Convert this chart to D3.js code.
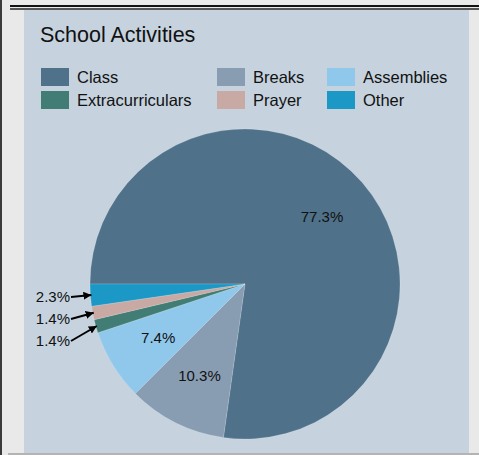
<!DOCTYPE html>
<html>
<head>
<meta charset="utf-8">
<script src="https://cdn.jsdelivr.net/npm/d3@7"></script>
<style>
  body { margin: 0; background: #e9e9e9; }
  svg { display: block; font-family: "Liberation Sans", Arial, sans-serif; }
</style>
</head>
<body>
<div id="chart"></div>
<script>
const width = 479;
const height = 455;

// data
const categories = ["Class", "Breaks", "Assemblies", "Extracurriculars", "Prayer", "Other"];
const values = [77.3, 10.3, 7.4, 1.4, 1.4, 2.3];
const colors = ["#4f7189", "#889db2", "#90c8ec", "#417d74", "#c8a9a4", "#1b98c6"];
const legendOrder = ["Class", "Breaks", "Assemblies", "Extracurriculars", "Prayer", "Other"];

const svg = d3.select("#chart")
              .append("svg")
              .attr("width", width)
              .attr("height", height);

// frame bits
svg.append("rect").attr("x", 0).attr("y", 0).attr("width", width).attr("height", height).attr("fill", "#e9e9e9");
svg.append("rect").attr("x", 0).attr("y", 0).attr("width", 2).attr("height", height).attr("fill", "#3a3a3a");
svg.append("rect").attr("x", 10).attr("y", 5).attr("width", width - 10).attr("height", 2).attr("fill", "#111");
svg.append("rect").attr("x", 10).attr("y", 8).attr("width", width - 10).attr("height", 2).attr("fill", "#555");
svg.append("rect").attr("x", 8).attr("y", 453).attr("width", width - 8).attr("height", 2).attr("fill", "#b4b4b4");

// panel
svg.append("rect")
   .attr("x", 24).attr("y", 10)
   .attr("width", 445).attr("height", 443)
   .attr("fill", "#c6d3df");

svg.append("text")
   .attr("x", 40).attr("y", 42)
   .attr("font-size", 21.5)
   .attr("fill", "#111")
   .text("School Activities");

const color = d3.scaleOrdinal().domain(categories).range(colors);

// legend, 3 columns x 2 rows
const colX = [41, 217, 327];
const rowY = [68, 91];
const legend = svg.append("g");
legendOrder.forEach((name, i) => {
    const x = colX[i % 3], y = rowY[Math.floor(i / 3)];
    legend.append("rect")
          .attr("x", x).attr("y", y)
          .attr("width", 28).attr("height", 18)
          .attr("fill", color(name));
    legend.append("text")
          .attr("x", x + 36).attr("y", y + 9)
          .attr("dy", "0.35em")
          .attr("font-size", 16.5)
          .attr("fill", "#111")
          .text(name);
});

// pie
const cx = 245, cy = 284, radius = 155;
const data = categories.map((c, i) => ({ name: c, value: values[i] }));

const pie = d3.pie()
              .sort(null)
              .value(d => d.value)
              .startAngle(-Math.PI / 2)
              .endAngle(3 * Math.PI / 2);

const arcs = pie(data);
const arc = d3.arc().innerRadius(0).outerRadius(radius);
const labelArc = d3.arc().innerRadius(102).outerRadius(102);

const g = svg.append("g").attr("transform", `translate(${cx},${cy})`);

g.selectAll("path")
 .data(arcs)
 .enter()
 .append("path")
 .attr("d", arc)
 .attr("fill", d => color(d.data.name))
 .attr("stroke", "#ffffff")
 .attr("stroke-opacity", 0.25)
 .attr("stroke-width", 0.6);

// big slices get inside labels
g.selectAll(".inlabel")
 .data(arcs.filter(d => d.data.value >= 5))
 .enter()
 .append("text")
 .attr("class", "inlabel")
 .attr("transform", d => `translate(${labelArc.centroid(d)})`)
 .attr("text-anchor", "middle")
 .attr("dy", "0.35em")
 .attr("font-size", 15)
 .attr("fill", "#111")
 .text(d => d.data.value.toFixed(1) + "%");

// small slices get outside labels with arrows
svg.append("defs").append("marker")
   .attr("id", "arrow")
   .attr("viewBox", "0 0 10 10")
   .attr("refX", 10).attr("refY", 5)
   .attr("markerWidth", 8).attr("markerHeight", 8)
   .attr("markerUnits", "userSpaceOnUse")
   .attr("orient", "auto")
   .append("path")
   .attr("d", "M0,0 L10,5 L0,10 z")
   .attr("fill", "#000");

const small = arcs.filter(d => d.data.value < 5)
                  .sort((a, b) => b.startAngle - a.startAngle);

small.forEach((d, i) => {
    const ly = cy + 13 + i * 22;
    const mid = (d.startAngle + d.endAngle) / 2;
    const tx = cx + Math.sin(mid) * (radius - 1);
    const ty = cy - Math.cos(mid) * (radius - 1);
    svg.append("text")
       .attr("x", 70).attr("y", ly)
       .attr("dy", "0.35em")
       .attr("text-anchor", "end")
       .attr("font-size", 15)
       .attr("fill", "#111")
       .text(d.data.value.toFixed(1) + "%");
    svg.append("line")
       .attr("x1", 71).attr("y1", ly)
       .attr("x2", tx).attr("y2", ty)
       .attr("stroke", "#000")
       .attr("stroke-width", 2)
       .attr("marker-end", "url(#arrow)");
});
</script>
</body>
</html>
